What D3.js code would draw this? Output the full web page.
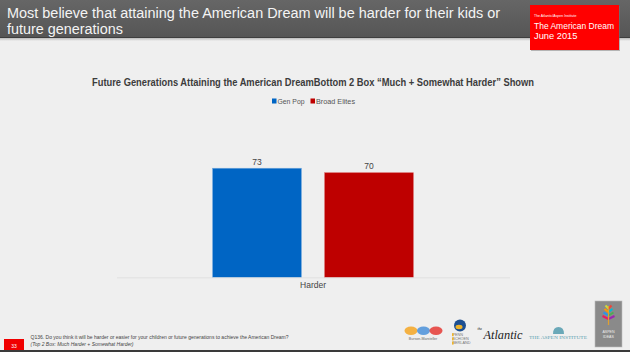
<!DOCTYPE html>
<html>
<head>
<meta charset="utf-8">
<script src="https://cdn.jsdelivr.net/npm/d3@7/dist/d3.min.js"></script>
<style>
  html, body { margin: 0; padding: 0; background: #efefef; }
  svg { display: block; font-family: "Liberation Sans", Arial, Helvetica, sans-serif; }
</style>
</head>
<body>
<svg id="chart" width="630" height="352"></svg>
<script>
// ---- data ----
const categories = ["Harder"];
const seriesNames = ["Gen Pop", "Broad Elites"];
const genPop = [73];
const broadElites = [70];
const seriesColors = ["#0065c4", "#be0000"];
const headerLines = ["Most believe that attaining the American Dream will be harder for their kids or", "future generations"];
const chartTitle = "Future Generations Attaining the American DreamBottom 2 Box \u201cMuch + Somewhat Harder\u201d Shown";
const footnoteLines = ["Q136. Do you think it will be harder or easier for your children or future generations to achieve the American Dream?", "(Top 2 Box: Much Harder + Somewhat Harder)"];
const pageNumber = "33";

const svg = d3.select("#chart");
const defs = svg.append("defs");
const g1 = defs.append("linearGradient").attr("id", "hdr").attr("x1", 0).attr("y1", 0).attr("x2", 0).attr("y2", 1);
g1.append("stop").attr("offset", "0%").attr("stop-color", "#666");
g1.append("stop").attr("offset", "100%").attr("stop-color", "#555");
const sh = defs.append("linearGradient").attr("id", "shadow").attr("x1", 0).attr("y1", 0).attr("x2", 0).attr("y2", 1);
sh.append("stop").attr("offset", "0%").attr("stop-color", "#bbb");
sh.append("stop").attr("offset", "100%").attr("stop-color", "#efefef");

// background
svg.append("rect").attr("width", 630).attr("height", 352).attr("fill", "#efefef");

// header band
svg.append("rect").attr("x", 0).attr("y", 0).attr("width", 630).attr("height", 38).attr("fill", "url(#hdr)");
svg.append("rect").attr("x", 0).attr("y", 37).attr("width", 630).attr("height", 1).attr("fill", "#3e3e3e");
svg.append("rect").attr("x", 0).attr("y", 38).attr("width", 630).attr("height", 3).attr("fill", "url(#shadow)");
svg.append("text").attr("x", 7).attr("y", 17.5).attr("fill", "#f4f4f4").attr("font-size", 15.5)
  .attr("textLength", 493).attr("lengthAdjust", "spacingAndGlyphs").text(headerLines[0]);
svg.append("text").attr("x", 7).attr("y", 34).attr("fill", "#f4f4f4").attr("font-size", 15.5)
  .attr("textLength", 116).attr("lengthAdjust", "spacingAndGlyphs").text(headerLines[1]);

// red badge
svg.append("rect").attr("x", 531).attr("y", 6).attr("width", 89).attr("height", 45).attr("fill", "#7a7a7a").attr("opacity", 0.5);
svg.append("rect").attr("x", 530).attr("y", 5).attr("width", 89).attr("height", 45).attr("fill", "#ff0000");
svg.append("text").attr("x", 534).attr("y", 17).attr("fill", "#fff").attr("font-size", 3.5).text("The Atlantic/Aspen Institute");
svg.append("text").attr("x", 534).attr("y", 28.5).attr("fill", "#fff").attr("font-size", 9.3)
  .attr("textLength", 80).attr("lengthAdjust", "spacingAndGlyphs").text("The American Dream");
svg.append("text").attr("x", 534).attr("y", 38.5).attr("fill", "#fff").attr("font-size", 9.3).text("June 2015");

// chart title
svg.append("text").attr("x", 313).attr("y", 86).attr("text-anchor", "middle").attr("fill", "#3c3c3c")
  .attr("font-size", 10).attr("font-weight", "bold")
  .attr("textLength", 442).attr("lengthAdjust", "spacingAndGlyphs").text(chartTitle);

// legend
const legendX = [272, 310.5];
seriesNames.forEach((n, i) => {
  svg.append("rect").attr("x", legendX[i]).attr("y", 98.5).attr("width", 4.5).attr("height", 5).attr("fill", seriesColors[i]);
  svg.append("text").attr("x", legendX[i] + 5.5).attr("y", 104.2).attr("fill", "#555").attr("font-size", 8)
    .attr("textLength", i === 0 ? 27 : 39).attr("lengthAdjust", "spacingAndGlyphs").text(n);
});

// scales
const x0 = d3.scaleBand().domain(categories).range([116.5, 509.5]).paddingInner(0).paddingOuter(0.479);
const x1 = d3.scaleBand().domain(seriesNames).range([0, x0.bandwidth()]).paddingInner(0.208).paddingOuter(0);
const y = d3.scaleLinear().domain([0, 100]).range([277.3, 127.9]);

const rows = categories.map((c, i) => ({ cat: c, vals: [genPop[i], broadElites[i]] }));

const groups = svg.append("g").selectAll("g").data(rows).join("g")
  .attr("transform", d => `translate(${x0(d.cat)},0)`);
groups.selectAll("rect").data(d => d.vals.map((v, i) => ({ name: seriesNames[i], v, i }))).join("rect")
  .attr("x", d => x1(d.name)).attr("y", d => y(d.v))
  .attr("width", x1.bandwidth()).attr("height", d => y(0) - y(d.v))
  .attr("fill", d => seriesColors[d.i])
  .attr("stroke", d => d.i === 0 ? "#6fa6dc" : "#d96a6a").attr("stroke-width", 0.6);
groups.selectAll("text").data(d => d.vals.map((v, i) => ({ name: seriesNames[i], v, i }))).join("text")
  .attr("x", d => x1(d.name) + x1.bandwidth() / 2).attr("y", d => y(d.v) - 3.5)
  .attr("text-anchor", "middle").attr("fill", "#444").attr("font-size", 8.5).text(d => d.v);

// axis
const ax = svg.append("g").attr("transform", `translate(0,${y(0)})`)
  .call(d3.axisBottom(x0).tickSize(0).tickPadding(5));
ax.select(".domain").attr("stroke", "#dcdcdc").attr("stroke-width", 0.8);
ax.selectAll("text").attr("fill", "#444").attr("font-size", 8.5).attr("font-family", "Liberation Sans, Arial, sans-serif");

// footer
svg.append("text").attr("x", 30.5).attr("y", 338.5).attr("fill", "#444").attr("font-size", 5)
  .attr("textLength", 258).attr("lengthAdjust", "spacingAndGlyphs").text(footnoteLines[0]);
svg.append("text").attr("x", 30.5).attr("y", 345.5).attr("fill", "#444").attr("font-size", 5).attr("font-style", "italic")
  .attr("textLength", 103).attr("lengthAdjust", "spacingAndGlyphs").text(footnoteLines[1]);
svg.append("rect").attr("x", 4).attr("y", 339).attr("width", 20).attr("height", 12).attr("fill", "#f00000");
svg.append("text").attr("x", 14).attr("y", 347.5).attr("text-anchor", "middle").attr("fill", "#fff").attr("font-size", 5).text(pageNumber);
svg.append("rect").attr("x", 0).attr("y", 350).attr("width", 630).attr("height", 2).attr("fill", "#3a3a3a");

// logos (approximate)
const globeCols = ["#f5a623", "#4a90d9", "#e53935"];
globeCols.forEach((c, i) => {
  svg.append("ellipse").attr("cx", 411 + i * 12.5).attr("cy", 330.8).attr("rx", 6.5).attr("ry", 4.2).attr("fill", c).attr("opacity", 0.85);
});
svg.append("text").attr("x", 423).attr("y", 340).attr("text-anchor", "middle").attr("fill", "#666").attr("font-size", 3.6).text("Burson-Marsteller");
svg.append("circle").attr("cx", 460).attr("cy", 325.5).attr("r", 6).attr("fill", "#1d4f91");
svg.append("ellipse").attr("cx", 459).attr("cy", 327).attr("rx", 3.5).attr("ry", 2.2).attr("fill", "#f0b429");
["PENN", "SCHOEN", "BERLAND"].forEach((t, i) => {
  svg.append("text").attr("x", 452.5).attr("y", 336 + i * 4.2).attr("fill", "#777").attr("font-size", 3.8).text(t);
  svg.append("rect").attr("x", 452).attr("y", 333.2 + i * 4.2).attr("width", 1.6).attr("height", 3).attr("fill", "#f0b429");
});
svg.append("text").attr("x", 483.5).attr("y", 338.5).attr("fill", "#222").attr("font-size", 12.5).attr("font-style", "italic")
  .attr("font-family", "Liberation Serif, serif").attr("textLength", 39).attr("lengthAdjust", "spacingAndGlyphs").text("Atlantic");
svg.append("text").attr("x", 477.5).attr("y", 330).attr("fill", "#222").attr("font-size", 3.6).attr("font-style", "italic")
  .attr("font-family", "Liberation Serif, serif").text("the");
svg.append("path").attr("d", "M553,334 Q553,327 558.5,327 Q564,327 564,334 Z").attr("fill", "#6aa8b8");
svg.append("text").attr("x", 529).attr("y", 338.8).attr("fill", "#5b9fb1").attr("font-size", 4.6)
  .attr("font-family", "Liberation Serif, serif").attr("textLength", 58).attr("lengthAdjust", "spacingAndGlyphs").text("THE ASPEN INSTITUTE");
svg.append("rect").attr("x", 595).attr("y", 301).attr("width", 27).attr("height", 46).attr("fill", "#8a8a8a").attr("stroke", "#bbb").attr("stroke-width", 0.6);
const leafCols = ["#e91e63", "#9c27b0", "#2196f3", "#4caf50", "#ff9800", "#00bcd4", "#cddc39", "#f44336"];
leafCols.forEach((c, i) => {
  const r = Math.floor(i / 2), s = i % 2 ? 1 : -1;
  svg.append("path").attr("d", `M608.5,${319 - r * 3.5} l${s * (6 - r)},${-3}`).attr("stroke", c).attr("stroke-width", 2);
});
svg.append("line").attr("x1", 608.5).attr("x2", 608.5).attr("y1", 306).attr("y2", 325).attr("stroke", "#e0a030").attr("stroke-width", 1.2);
svg.append("text").attr("x", 608.5).attr("y", 333).attr("text-anchor", "middle").attr("fill", "#eee").attr("font-size", 3.6).text("ASPEN");
svg.append("text").attr("x", 608.5).attr("y", 337.5).attr("text-anchor", "middle").attr("fill", "#eee").attr("font-size", 3.6).text("IDEAS");
</script>
</body>
</html>
